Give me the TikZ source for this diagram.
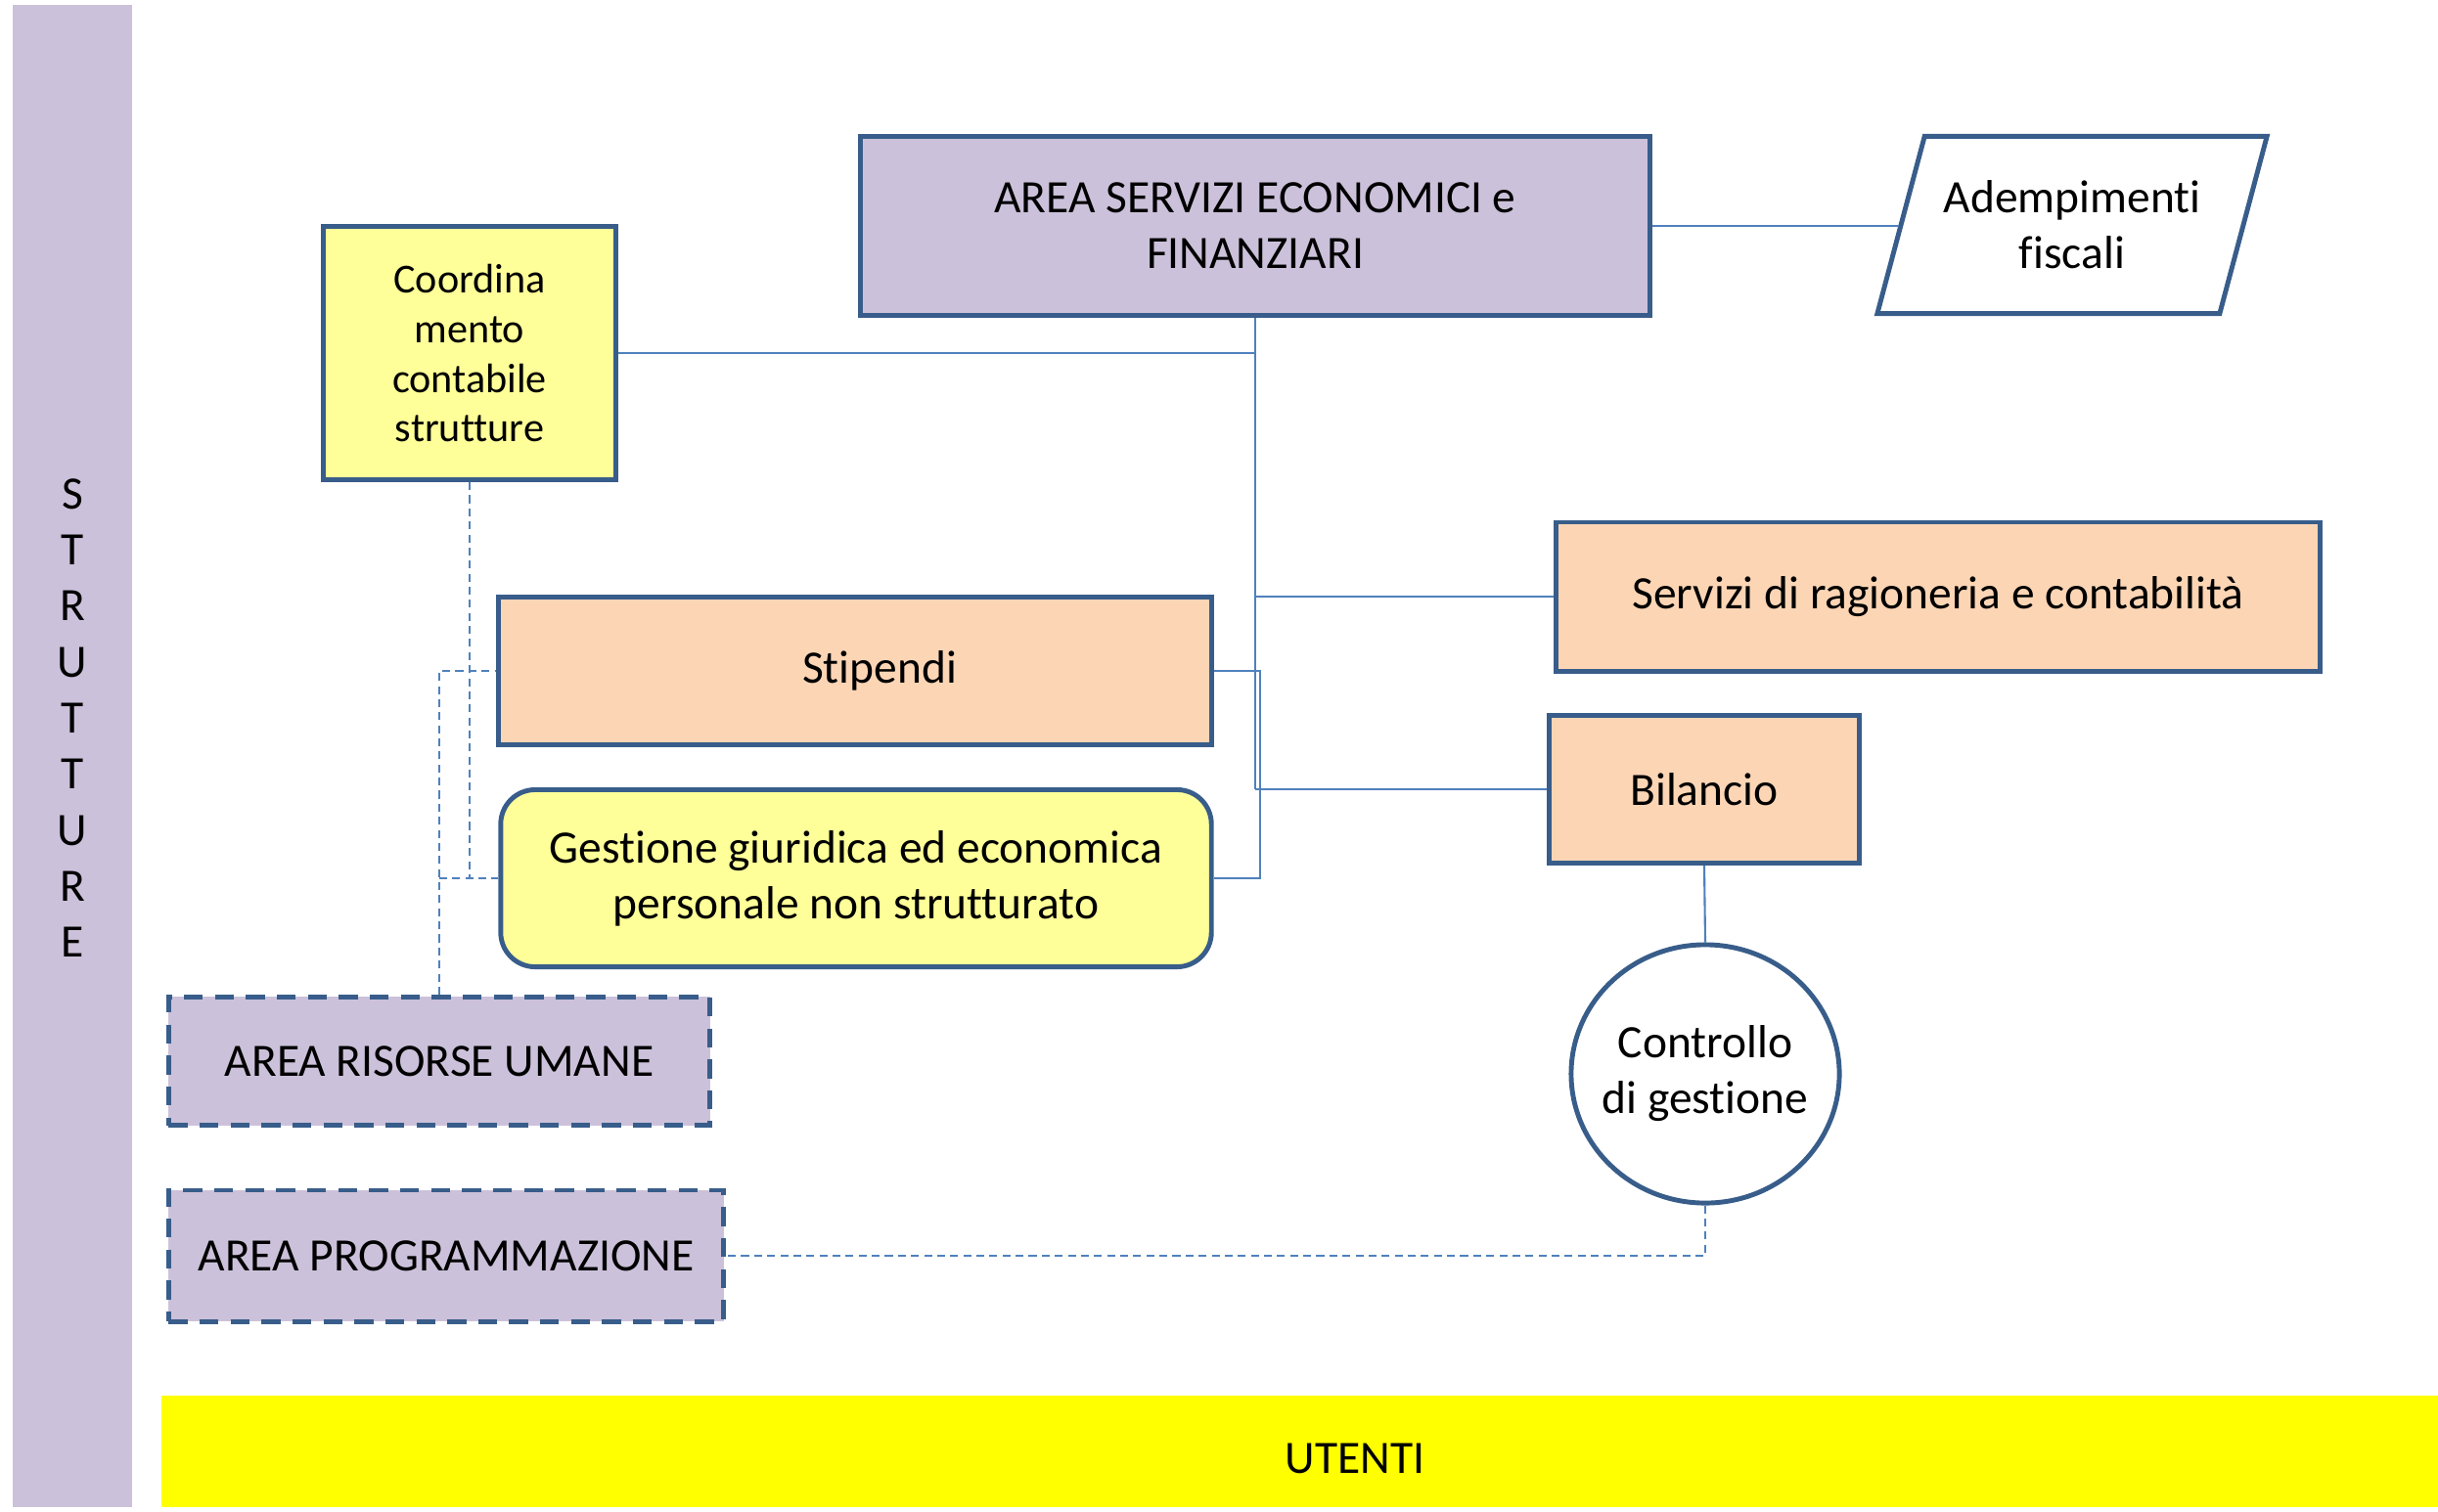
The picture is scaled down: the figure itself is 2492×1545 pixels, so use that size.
\documentclass[tikz,border=0pt]{standalone}
\usepackage{fontspec}
\setmainfont[Ligatures={NoCommon}]{Carlito}
\usepackage{tikz}
\usetikzlibrary{positioning}
\usetikzlibrary{shapes,shapes.geometric,calc}
\definecolor{lilla}{RGB}{204,193,218}
\definecolor{pesca}{RGB}{252,213,181}
\definecolor{giallino}{RGB}{255,255,153}
\definecolor{giallo}{RGB}{255,255,0}
\definecolor{bordo}{RGB}{56,93,138}
\definecolor{linea}{RGB}{79,129,189}

\begin{document}
\begin{tikzpicture}[x=0.01cm, y=-0.01cm,
    box/.style={rectangle, draw=bordo, line width=1.4pt, align=center, inner sep=2pt,
        font=\fontsize{13.5}{16.2}\selectfont},
    dbox/.style={box, fill=lilla, dash pattern=on 5.5pt off 3.5pt},
    conn/.style={draw=linea, line width=0.6pt},
    dconn/.style={conn, dash pattern=on 2.3pt off 1.5pt}]
    \useasboundingbox (0,0) rectangle (2492,1545);
    \fill[lilla] (13,5) rectangle (135,1541);
    \fill[giallo] (165,1427) rectangle (2492,1541);
    \path
        node (strutture) at (74,734) [align=center, font=\fontsize{13.5}{16.3}\selectfont]
            {S\\T\\R\\U\\T\\T\\U\\R\\E}
        node (utenti) at (1385,1491) [font=\fontsize{13.5}{16.2}\selectfont] {UTENTI};
    \path
        node (aes) at (1283,231) [box, fill=lilla, minimum width=8.06cm, minimum height=1.83cm]
            {AREA SERVIZI ECONOMICI e\\FINANZIARI}
        node (adem) at (2118,230) [trapezium, trapezium left angle=67, trapezium right angle=113,
            trapezium stretches body, draw=bordo, line width=1.4pt, fill=white, align=center,
            minimum width=3.98cm, minimum height=1.81cm, font=\fontsize{13.5}{16.2}\selectfont]
            {Adempimenti\\fiscali}
        node (coord) at (480,361) [box, fill=giallino, minimum width=2.99cm, minimum height=2.59cm,
            font=\fontsize{12}{14.5}\selectfont] {Coordina\\mento\\contabile\\strutture}
        node (stip) at (874,686) [box, fill=pesca, minimum width=7.28cm, minimum height=1.51cm]
            {\hspace*{0.5cm}Stipendi}
        node (gest) at (875,898) [box, fill=giallino, rounded corners=10pt, minimum width=7.26cm,
            minimum height=1.81cm] {Gestione giuridica ed economica\\personale non strutturato}
        node (serv) at (1981,610) [box, fill=pesca, minimum width=7.81cm, minimum height=1.52cm]
            {Servizi di ragioneria e contabilità}
        node (bil) at (1742,807) [box, fill=pesca, minimum width=3.16cm, minimum height=1.51cm] {Bilancio}
        node (ctrl) at (1743,1098) [box, ellipse, fill=white, inner xsep=-10pt, inner ysep=-6pt,
            minimum width=2.74cm, minimum height=2.64cm] {Controllo\\di gestione}
        node (aru) at (449,1085) [dbox, minimum width=5.53cm, minimum height=1.31cm] {AREA RISORSE UMANE}
        node (apr) at (456,1284) [dbox, minimum width=5.67cm, minimum height=1.34cm] {AREA PROGRAMMAZIONE};
    % linee continue
    \draw[conn] (aes.east) -- (aes.east -| adem.west);
    \draw[conn] (aes.south) -- (aes.south |- bil.west);
    \draw[conn] (coord.east) -- (coord.east -| aes.south);
    \draw[conn] (serv.west -| aes.south) -- (serv.west);
    \draw[conn] (bil.west -| aes.south) -- (bil.west);
    \draw[conn] (stip.east) -- ++(47,0) |- (gest.east);
    \draw[conn] (bil.south) -- (ctrl.north);
    % linee tratteggiate
    \draw[dconn] (coord.south) |- (gest.west);
    \draw[dconn] (aru.north) |- (stip.west);
    \draw[dconn] (aru.north |- gest.west) -- (gest.west);
    \draw[dconn] (ctrl.south) |- (apr.east);
\end{tikzpicture}
\end{document}
